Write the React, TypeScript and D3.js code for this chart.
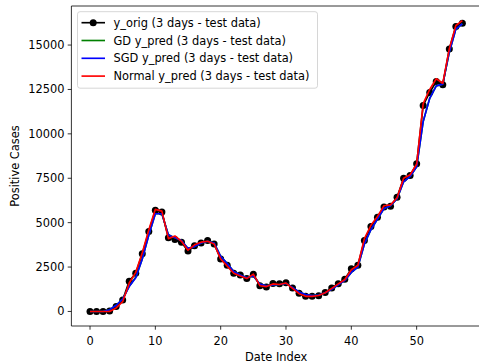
import React from "react";
import * as d3 from "d3";

const dateIndex: number[] = Array.from({ length: 58 }, (_, i) => i);

const yOrig: number[] = [
  0, 0, 0, 30, 280, 650, 1700, 2150, 3250, 4500,
  5700, 5600, 4150, 4050, 3900, 3400, 3700, 3850, 4000, 3800,
  2950, 2600, 2150, 2050, 1850, 2100, 1450, 1380, 1580, 1560,
  1620, 1320, 1030, 850, 850, 880, 1070, 1320, 1560, 1820,
  2400, 2600, 4000, 4780, 5310, 5880, 5930, 6430, 7500, 7650,
  8310, 11600, 12330, 12950, 12760, 14780, 16040, 16230,
];

const gdPred: number[] = [
  0, 0, 0, 100, 340, 700, 1420, 1920, 2960, 4300,
  5500, 5500, 4300, 4150, 4000, 3550, 3650, 3850, 3950, 3850,
  3100, 2700, 2250, 2050, 1900, 2000, 1550, 1450, 1500, 1520,
  1580, 1350, 1100, 950, 900, 920, 1050, 1250, 1500, 1750,
  2200, 2500, 3800, 4600, 5200, 5800, 5950, 6350, 7300, 7600,
  8150, 10700, 12000, 12700, 12800, 14600, 15900, 16200,
];

const sgdPred: number[] = [
  0, 0, 0, 100, 350, 700, 1400, 1900, 2950, 4300,
  5500, 5500, 4300, 4150, 4000, 3550, 3650, 3850, 3950, 3850,
  3100, 2700, 2250, 2050, 1900, 2000, 1550, 1450, 1500, 1520,
  1580, 1350, 1100, 950, 900, 920, 1050, 1250, 1500, 1750,
  2200, 2500, 3800, 4600, 5200, 5800, 5950, 6350, 7300, 7600,
  8150, 10700, 12000, 12700, 12800, 14600, 15900, 16200,
];

const normalPred: number[] = [
  0, 0, 0, 0, 200, 550, 1600, 2200, 3300, 4600,
  5750, 5650, 4100, 4250, 3950, 3450, 3750, 3900, 3950, 3800,
  2950, 2550, 2150, 2000, 1850, 2100, 1450, 1400, 1550, 1520,
  1600, 1300, 1000, 850, 850, 900, 1050, 1300, 1550, 1800,
  2350, 2600, 4100, 4850, 5350, 5950, 6000, 6400, 7500, 7700,
  8300, 11700, 12500, 13100, 12850, 14800, 16100, 16380,
];

const xTicks: number[] = [0, 10, 20, 30, 40, 50];
const yTicks: number[] = [0, 2500, 5000, 7500, 10000, 12500, 15000];

const legendLabels: string[] = [
  "y_orig (3 days - test data)",
  "GD y_pred (3 days - test data)",
  "SGD y_pred (3 days - test data)",
  "Normal y_pred (3 days - test data)",
];
const legendColors: string[] = ["black", "green", "blue", "red"];

const W = 479;
const H = 364;
const left = 71.4;
const right = 481;
const top = 6;
const bottom = 326;
const FONT = "'DejaVu Sans', sans-serif";
const FS = 11.4;

export default function App() {
  const xMin = d3.min(dateIndex)!;
  const xMax = d3.max(dateIndex)!;
  const xPad = (xMax - xMin) * 0.05;
  const x = d3.scaleLinear().domain([xMin - xPad, xMax + xPad]).range([left, right]);

  const all = [...yOrig, ...gdPred, ...sgdPred, ...normalPred];
  const yMin = d3.min(all)!;
  const yMax = d3.max(all)!;
  const yPad = (yMax - yMin) * 0.05;
  const y = d3.scaleLinear().domain([yMin - yPad, yMax + yPad]).range([bottom, top]);

  const line = (vals: number[]) =>
    d3.line<number>().x((_, i) => x(dateIndex[i])).y((v) => y(v))(vals) || "";

  const series = [
    { vals: gdPred, color: "green" },
    { vals: sgdPred, color: "blue" },
    { vals: normalPred, color: "red" },
  ];

  return (
    <svg
      width={W}
      height={H}
      style={{ position: "fixed", left: 0, top: 0, background: "white" }}
      fontFamily={FONT}
    >
      <defs>
        <clipPath id="plotclip">
          <rect x={left} y={top} width={right - left} height={bottom - top} />
        </clipPath>
      </defs>
      <rect x={0} y={0} width={W} height={H} fill="white" />
      <g clipPath="url(#plotclip)">
        <path d={line(yOrig)} fill="none" stroke="black" strokeWidth={1.65} />
        {yOrig.map((v, i) => (
          <circle key={i} cx={x(dateIndex[i])} cy={y(v)} r={3.5} fill="black" />
        ))}
        {series.map((s, k) => (
          <path key={k} d={line(s.vals)} fill="none" stroke={s.color} strokeWidth={1.65} strokeLinejoin="round" />
        ))}
      </g>
      <line x1={left} x2={left} y1={top} y2={bottom} stroke="black" strokeWidth={0.8} />
      <line x1={left} x2={right} y1={bottom} y2={bottom} stroke="black" strokeWidth={0.8} />
      <line x1={left} x2={right} y1={top} y2={top} stroke="black" strokeWidth={0.8} />
      {xTicks.map((t) => (
        <g key={t}>
          <line x1={x(t)} x2={x(t)} y1={bottom} y2={bottom + 3.7} stroke="black" strokeWidth={0.8} />
          <text x={x(t)} y={bottom + 18.5} textAnchor="middle" fontSize={FS} fill="black">
            {t}
          </text>
        </g>
      ))}
      {yTicks.map((t) => (
        <g key={t}>
          <line x1={left - 3.7} x2={left} y1={y(t)} y2={y(t)} stroke="black" strokeWidth={0.8} />
          <text x={left - 7} y={y(t) + 4} textAnchor="end" fontSize={FS} fill="black">
            {t}
          </text>
        </g>
      ))}
      <text x={(left + right) / 2} y={360.5} textAnchor="middle" fontSize={FS} fill="black">
        Date Index
      </text>
      <text
        transform={`translate(19, ${(top + bottom) / 2}) rotate(-90)`}
        textAnchor="middle"
        fontSize={FS}
        fill="black"
      >
        Positive Cases
      </text>
      <rect x={77.5} y={11.7} width={240} height={76.5} rx={2.5} fill="white" fillOpacity={0.8} stroke="#cccccc" strokeWidth={0.8} />
      {legendLabels.map((lab, i) => {
        const cy = 22.7 + i * 17.8;
        return (
          <g key={lab}>
            <line x1={81.5} x2={105} y1={cy} y2={cy} stroke={legendColors[i]} strokeWidth={1.65} />
            {i === 0 && <circle cx={93.2} cy={cy} r={3.5} fill="black" />}
            <text x={113.5} y={cy + 4} fontSize={FS} fill="black">
              {lab}
            </text>
          </g>
        );
      })}
    </svg>
  );
}
